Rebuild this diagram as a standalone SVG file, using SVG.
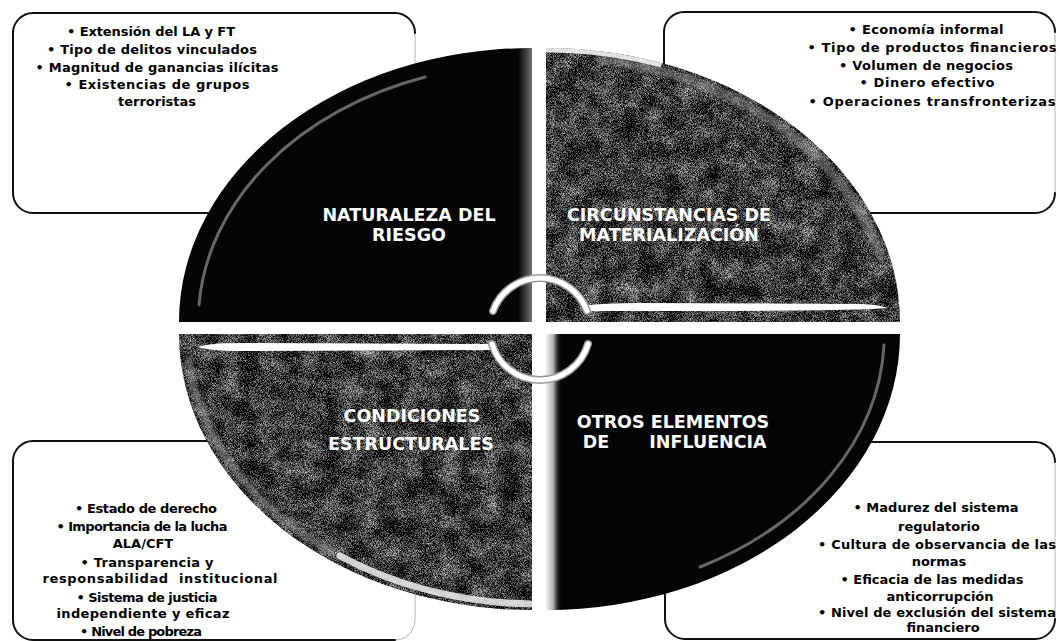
<svg xmlns="http://www.w3.org/2000/svg" width="1060" height="641" viewBox="0 0 1060 641">
<style>
.box{fill:#fff;stroke:#b5b5b5;stroke-width:1}
.edge{fill:none;stroke:#111;stroke-width:2;stroke-linecap:round}
.bt{font-family:"DejaVu Sans","Liberation Sans",Arial,sans-serif;font-weight:bold;font-size:13px;fill:#000;text-anchor:middle;white-space:pre}
.lbl{font-family:"DejaVu Sans","Liberation Sans",Arial,sans-serif;font-weight:bold;font-size:17.5px;fill:#fff;text-anchor:middle;white-space:pre}
.black{fill:#050505}
.tex{fill:#333}
.sheen{fill:none;stroke:#a8a8a8;stroke-linecap:round}
.hl{fill:#fff}
.ringo{fill:none;stroke:#9a9a9a;stroke-width:8;stroke-linecap:round}
.ringi{fill:none;stroke:#fff;stroke-width:5;stroke-linecap:round}
</style>
<defs>
<filter id="grain" x="0" y="0" width="1" height="1" color-interpolation-filters="sRGB">
<feTurbulence type="fractalNoise" baseFrequency="0.05" numOctaves="3" seed="11" result="n1"/>
<feColorMatrix in="n1" type="matrix" values="1 0 0 0 0 1 0 0 0 0 1 0 0 0 0 0 0 0 0 1" result="g1"/>
<feTurbulence type="fractalNoise" baseFrequency="1.4" numOctaves="1" seed="3" result="n2"/>
<feColorMatrix in="n2" type="matrix" values="1 0 0 0 0 1 0 0 0 0 1 0 0 0 0 0 0 0 0 1" result="g2"/>
<feComposite in="g1" in2="g2" operator="arithmetic" k1="0" k2="0.5" k3="1.2" k4="-0.35" result="mix"/>
<feColorMatrix in="mix" type="matrix" values="1.3 0 0 0 -0.42 1.3 0 0 0 -0.42 1.3 0 0 0 -0.42 0 0 0 0 1" result="g"/>
<feComposite in="g" in2="SourceGraphic" operator="in"/>
</filter>
<filter id="soft" x="-10%" y="-10%" width="120%" height="120%"><feGaussianBlur stdDeviation="1.5"/></filter>
<clipPath id="cTL"><path d="M532,322 L179,322 A353,274 0 0 1 532,48 Z"/></clipPath>
<clipPath id="cTR"><path d="M546,322 L546,48 A354,274 0 0 1 900,322 Z"/></clipPath>
<clipPath id="cBL"><path d="M532,334 L179,334 A353,276 0 0 0 532,610 Z"/></clipPath>
<clipPath id="cBR"><path d="M546,334 L900,334 A354,276 0 0 1 546,610 Z"/></clipPath>
<linearGradient id="gTLedge" x1="0" x2="1" y1="0" y2="0">
<stop offset="0" stop-color="#7a7a7a" stop-opacity="0"/>
<stop offset="1" stop-color="#8a8a8a" stop-opacity="0.9"/>
</linearGradient>
<linearGradient id="gBRedge" x1="0" x2="1" y1="0" y2="0">
<stop offset="0" stop-color="#f2f2f2"/>
<stop offset="0.45" stop-color="#b5b5b5"/>
<stop offset="1" stop-color="#050505" stop-opacity="0"/>
</linearGradient>
</defs>

<rect x="0" y="0" width="1060" height="641" fill="#fff"/>

<g id="box-naturaleza">
<rect class="box" x="13" y="13" width="402" height="200" rx="20"/>
<path class="edge" d="M415,33 A20,20 0 0 0 395,13 H33 A20,20 0 0 0 13,33 V193 A20,20 0 0 0 33,213 H395"/>
<text class="bt" x="151" y="36" textLength="168" lengthAdjust="spacing">• Extensión del LA y FT</text>
<text class="bt" x="152" y="54" textLength="210" lengthAdjust="spacing">• Tipo de delitos vinculados</text>
<text class="bt" x="157" y="72" textLength="243" lengthAdjust="spacing">• Magnitud de ganancias ilícitas</text>
<text class="bt" x="157" y="89" textLength="185" lengthAdjust="spacing">• Existencias de grupos</text>
<text class="bt" x="157" y="106">terroristas</text>
</g>

<g id="box-circunstancias">
<rect class="box" x="664" y="12" width="391" height="201" rx="20"/>
<path class="edge" d="M1055,32 A20,20 0 0 0 1035,12 H684 A20,20 0 0 0 664,32 V193 A20,20 0 0 0 684,213 H1035 A20,20 0 0 0 1055,193"/>
<text class="bt" x="926" y="34" textLength="155" lengthAdjust="spacing">• Economía informal</text>
<text class="bt" x="932" y="52" textLength="249" lengthAdjust="spacing">• Tipo de productos financieros</text>
<text class="bt" x="926" y="70" textLength="174" lengthAdjust="spacing">• Volumen de negocios</text>
<text class="bt" x="927" y="87" textLength="135" lengthAdjust="spacing">• Dinero efectivo</text>
<text class="bt" x="932" y="106" textLength="247" lengthAdjust="spacing">• Operaciones transfronterizas</text>
</g>

<g id="box-condiciones">
<rect class="box" x="13" y="441" width="402" height="199" rx="20"/>
<path class="edge" d="M415,461 A20,20 0 0 0 395,441 H33 A20,20 0 0 0 13,461 V620 A20,20 0 0 0 33,640 H395"/>
<text class="bt" x="146" y="513" textLength="142" lengthAdjust="spacing">• Estado de derecho</text>
<text class="bt" x="142" y="531" textLength="171" lengthAdjust="spacing">• Importancia de la lucha</text>
<text class="bt" x="143" y="548">ALA/CFT</text>
<text class="bt" x="147" y="567" textLength="133" lengthAdjust="spacing">• Transparencia y</text>
<text class="bt" x="160" y="583" textLength="235" lengthAdjust="spacing">responsabilidad  institucional</text>
<text class="bt" x="147" y="602" textLength="141" lengthAdjust="spacing">• Sistema de justicia</text>
<text class="bt" x="143" y="618" textLength="173" lengthAdjust="spacing">independiente y eficaz</text>
<text class="bt" x="141" y="636" textLength="122" lengthAdjust="spacing">• Nivel de pobreza</text>
</g>

<g id="box-otros">
<rect class="box" x="665" y="442" width="390" height="197" rx="20"/>
<path class="edge" d="M1055,462 A20,20 0 0 0 1035,442 H685 A20,20 0 0 0 665,462 V619 A20,20 0 0 0 685,639 H1035 A20,20 0 0 0 1055,619"/>
<text class="bt" x="936" y="512" textLength="165" lengthAdjust="spacing">• Madurez del sistema</text>
<text class="bt" x="939" y="531">regulatorio</text>
<text class="bt" x="937" y="549" textLength="238" lengthAdjust="spacing">• Cultura de observancia de las</text>
<text class="bt" x="939" y="566">normas</text>
<text class="bt" x="932" y="584" textLength="183" lengthAdjust="spacing">• Eficacia de las medidas</text>
<text class="bt" x="940" y="601">anticorrupción</text>
<text class="bt" x="937" y="617" textLength="238" lengthAdjust="spacing">• Nivel de exclusión del sistema</text>
<text class="bt" x="943" y="632">financiero</text>
</g>

<g id="node-naturaleza">
<path class="black" d="M532,322 L179,322 A353,274 0 0 1 532,48 Z"/>
<rect x="518" y="45" width="15" height="280" fill="url(#gTLedge)" clip-path="url(#cTL)"/>
<path class="sheen" stroke-width="3" opacity="0.6" d="M199,305 A334,258 0 0 1 425,77"/>
<text class="lbl" x="409" y="221">NATURALEZA DEL</text>
<text class="lbl" x="409" y="241">RIESGO</text>
</g>

<g id="node-circunstancias">
<path class="tex" filter="url(#grain)" d="M546,322 L546,48 A354,274 0 0 1 900,322 Z"/>
<path class="sheen" stroke-width="10" opacity="0.4" filter="url(#soft)" clip-path="url(#cTR)" d="M600,59 A345,266 0 0 1 880,255"/>
<path fill="none" stroke="#fff" stroke-width="9" opacity="0.85" clip-path="url(#cTR)" d="M546,48 A354,274 0 0 1 662,63"/>
<path class="hl" d="M584,306 Q600,303 640,303 L860,304 Q882,305 887,308 Q860,311 640,311 L592,311 Z"/>
<text class="lbl" x="669" y="221">CIRCUNSTANCIAS DE</text>
<text class="lbl" x="669" y="241">MATERIALIZACIÓN</text>
</g>

<g id="node-condiciones">
<path class="tex" filter="url(#grain)" d="M532,334 L179,334 A353,276 0 0 0 532,610 Z"/>
<path class="sheen" stroke-width="8" opacity="0.4" filter="url(#soft)" clip-path="url(#cBL)" d="M189,360 A345,268 0 0 0 330,551"/>
<path fill="none" stroke="#eee" stroke-width="7" opacity="0.85" stroke-linecap="round" clip-path="url(#cBL)" d="M340,556 A350,270 0 0 0 530,604"/>
<path class="hl" d="M198,347 Q210,343 240,343 L494,344 L494,350 L240,351 Q210,351 198,347 Z"/>
<text class="lbl" x="412" y="422">CONDICIONES</text>
<text class="lbl" x="411" y="450">ESTRUCTURALES</text>
</g>

<g id="node-otros">
<path class="black" d="M546,334 L900,334 A354,276 0 0 1 546,610 Z"/>
<rect x="546" y="334" width="16" height="278" fill="url(#gBRedge)" clip-path="url(#cBR)"/>
<path class="sheen" stroke-width="3" opacity="0.6" d="M884,345 A338,262 0 0 1 700,567"/>
<text class="lbl" x="673" y="428">OTROS ELEMENTOS</text>
<text class="lbl" y="448"><tspan x="596">DE</tspan><tspan x="708">INFLUENCIA</tspan></text>
</g>

<g id="connectors">
<path class="ringo" d="M493,311 A50,50 0 0 1 587,311"/>
<path class="ringo" d="M492,344 A50,50 0 0 0 588,344"/>
<path class="ringi" d="M493,311 A50,50 0 0 1 587,311"/>
<path class="ringi" d="M492,344 A50,50 0 0 0 588,344"/>
</g>
</svg>
